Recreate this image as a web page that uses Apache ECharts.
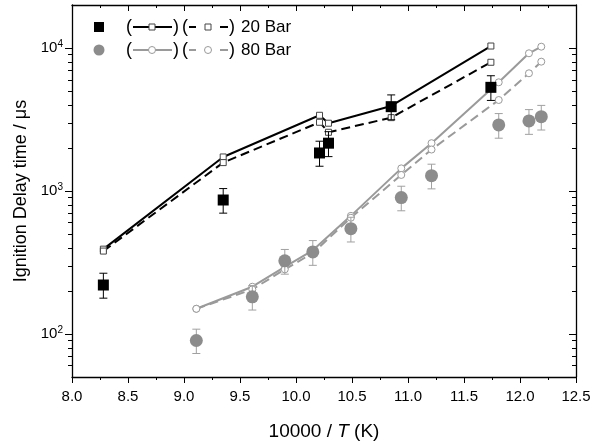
<!DOCTYPE html>
<html>
<head>
<meta charset="utf-8">
<script src="https://cdn.jsdelivr.net/npm/echarts@6/dist/echarts.min.js"></script>
<style>
html,body{margin:0;padding:0;background:#fff;}
#chart{width:600px;height:448px;}
</style>
</head>
<body>
<div id="chart"></div>
<script>
// ---- data ----
// 20 Bar experiment (filled black squares)
const x20 = [8.28, 9.35, 10.21, 10.29, 10.85, 11.74];
const exp20 = [220, 865, 1845, 2160, 3890, 5310];
const exp20Lo = [178, 700, 1490, 1740, 3150, 4300];
const exp20Hi = [266, 1040, 2230, 2600, 4700, 6400];
// 20 Bar simulations (open squares)
const sim20Solid = [392, 1730, 3385, 2980, 3935, 10330];
const sim20Dash = [380, 1580, 3025, 2575, 3260, 7950];

// 80 Bar experiment (filled grey circles)
const x80 = [9.11, 9.61, 9.90, 10.15, 10.49, 10.94, 11.21, 11.81, 12.08, 12.19];
const exp80 = [90, 182, 325, 375, 545, 900, 1280, 2900, 3090, 3310];
const exp80Lo = [73, 147, 262, 302, 440, 727, 1035, 2340, 2490, 2670];
const exp80Hi = [108, 218, 390, 450, 655, 1080, 1540, 3480, 3710, 3970];
// 80 Bar simulations (open circles)
const sim80Solid = [150, 214, 295, 385, 670, 1440, 2160, 5760, 9190, 10220];
const sim80Dash = [150, 205, 283, 368, 650, 1295, 1950, 4330, 6660, 8030];

// axes
const xMin = 8.0, xMax = 12.5, xStep = 0.5;
const yMin = 50, yMax = 20000;
const yMajor = [100, 1000, 10000];
const yMinor = [60, 70, 80, 90, 200, 300, 400, 500, 600, 700, 800, 900,
  2000, 3000, 4000, 5000, 6000, 7000, 8000, 9000];

const legendLabels = ['20 Bar', '80 Bar'];
const yTitle = 'Ignition Delay time / \u03bcs';

// ---- build ----
const BLACK = '#000000';
const GREY = '#8c8c8c';
const GREY_LINE = '#9a9a9a';
const GREY_ERR = '#a0a0a0';
const FONT = 'Liberation Sans, Arial, sans-serif';

const pairs = (xs, ys) => xs.map((x, i) => [x, ys[i]]);
const errData = (xs, lo, hi) => xs.map((x, i) => [x, lo[i], hi[i]]);

function errRender(color) {
  return function (params, api) {
    const x = api.value(0);
    const p1 = api.coord([x, api.value(1)]);
    const p2 = api.coord([x, api.value(2)]);
    const w = 4;
    const st = { stroke: color, lineWidth: 1 };
    return {
      type: 'group',
      children: [
        { type: 'line', shape: { x1: p1[0], y1: p1[1], x2: p2[0], y2: p2[1] }, style: st },
        { type: 'line', shape: { x1: p1[0] - w, y1: p1[1], x2: p1[0] + w, y2: p1[1] }, style: st },
        { type: 'line', shape: { x1: p2[0] - w, y1: p2[1], x2: p2[0] + w, y2: p2[1] }, style: st }
      ]
    };
  };
}

const supFmt = v => '10{sup|' + Math.round(Math.log10(v)) + '}';

const commonX = {
  type: 'value', min: xMin, max: xMax, interval: xStep,
  splitLine: { show: false },
  axisLine: { show: true, onZero: false, lineStyle: { color: BLACK, width: 1.3 } },
};
const chart = echarts.init(document.getElementById('chart'), null, { renderer: 'canvas' });
const option = {
  animation: false,
  backgroundColor: '#ffffff',
  grid: { left: 72, right: 24, top: 5, bottom: 71, containLabel: false },
  xAxis: [
    Object.assign({}, commonX, {
      position: 'bottom',
      name: '10000 / {it|T} (K)',
      nameLocation: 'middle',
      nameGap: 45,
      nameTextStyle: {
        fontFamily: FONT, fontSize: 19, color: BLACK,
        rich: { it: { fontStyle: 'italic', fontFamily: FONT, fontSize: 19, color: BLACK } }
      },
      axisTick: { show: true, inside: false, length: 6, lineStyle: { color: BLACK } },
      minorTick: { show: true, splitNumber: 2, length: 3, lineStyle: { color: BLACK } },
      axisLabel: {
        fontFamily: FONT, fontSize: 15, color: BLACK, margin: 12,
        formatter: v => v.toFixed(1)
      }
    }),
    Object.assign({}, commonX, {
      position: 'top',
      axisTick: { show: true, inside: true, length: 6, lineStyle: { color: BLACK } },
      minorTick: { show: true, splitNumber: 2, length: 3, lineStyle: { color: BLACK } },
      axisLabel: { show: false }
    })
  ],
  yAxis: [
    {
      type: 'log', min: yMin, max: yMax, position: 'left',
      splitLine: { show: false },
      axisLine: { show: true, onZero: false, lineStyle: { color: BLACK, width: 1.3 } },
      axisTick: { show: true, inside: false, length: 7, customValues: yMajor, lineStyle: { color: BLACK } },
      axisLabel: {
        customValues: yMajor, formatter: supFmt, margin: 9,
        fontFamily: FONT, fontSize: 15, color: BLACK,
        rich: { sup: { fontFamily: FONT, fontSize: 10, color: BLACK, verticalAlign: 'top', padding: [0, 0, 8, 0] } }
      },
      name: yTitle, nameLocation: 'middle', nameGap: 41,
      nameTextStyle: { fontFamily: FONT, fontSize: 18, color: BLACK }
    },
    {
      type: 'log', min: yMin, max: yMax, position: 'right',
      splitLine: { show: false },
      axisLine: { show: true, onZero: false, lineStyle: { color: BLACK, width: 1.3 } },
      axisTick: { show: true, inside: true, length: 7, customValues: yMajor, lineStyle: { color: BLACK } },
      axisLabel: { show: false }
    },
    {
      type: 'log', min: yMin, max: yMax, position: 'left',
      splitLine: { show: false },
      axisLine: { show: false },
      axisTick: { show: true, inside: false, length: 4, customValues: yMinor, lineStyle: { color: BLACK } },
      axisLabel: { show: false }
    },
    {
      type: 'log', min: yMin, max: yMax, position: 'right',
      splitLine: { show: false },
      axisLine: { show: false },
      axisTick: { show: true, inside: true, length: 4, customValues: yMinor, lineStyle: { color: BLACK } },
      axisLabel: { show: false }
    }
  ],
  series: [
    // simulations 20 bar
    {
      type: 'line', data: pairs(x20, sim20Solid), symbol: 'rect', symbolSize: 6,
      lineStyle: { color: BLACK, width: 2 },
      itemStyle: { color: '#ffffff', borderColor: '#444', borderWidth: 1 }, z: 3
    },
    {
      type: 'line', data: pairs(x20, sim20Dash), symbol: 'rect', symbolSize: 6,
      lineStyle: { color: BLACK, width: 2, type: [9, 5] },
      itemStyle: { color: '#ffffff', borderColor: '#444', borderWidth: 1 }, z: 3
    },
    // simulations 80 bar
    {
      type: 'line', data: pairs(x80, sim80Solid), symbol: 'circle', symbolSize: 7,
      lineStyle: { color: GREY_LINE, width: 2 },
      itemStyle: { color: '#ffffff', borderColor: GREY_LINE, borderWidth: 1 }, z: 3
    },
    {
      type: 'line', data: pairs(x80, sim80Dash), symbol: 'circle', symbolSize: 7,
      lineStyle: { color: GREY_LINE, width: 2, type: [9, 5] },
      itemStyle: { color: '#ffffff', borderColor: GREY_LINE, borderWidth: 1 }, z: 3
    },
    // error bars
    { type: 'custom', data: errData(x20, exp20Lo, exp20Hi), renderItem: errRender(BLACK), z: 4 },
    { type: 'custom', data: errData(x80, exp80Lo, exp80Hi), renderItem: errRender(GREY_ERR), z: 4 },
    // experiments
    {
      type: 'scatter', data: pairs(x20, exp20), symbol: 'rect', symbolSize: 11,
      itemStyle: { color: BLACK, opacity: 1 }, z: 5
    },
    {
      type: 'scatter', data: pairs(x80, exp80), symbol: 'circle', symbolSize: 13,
      itemStyle: { color: GREY, opacity: 1 }, z: 5
    }
  ],
  graphic: []
};

// legend drawn as graphic elements (text kept as text)
function legendRow(y, markerShape, markerColor, lineColor, symShape, label) {
  const g = [];
  if (markerShape === 'rect') {
    g.push({ type: 'rect', shape: { x: 94, y: y - 5, width: 10, height: 10 }, style: { fill: markerColor } });
  } else {
    g.push({ type: 'circle', shape: { cx: 99, cy: y, r: 5.5 }, style: { fill: markerColor } });
  }
  const txt = (x, s) => ({ type: 'text', x: x, y: y, style: { text: s, font: '18px ' + FONT, fill: BLACK, verticalAlign: 'middle', align: 'left' } });
  const sym = (cx) => symShape === 'rect'
    ? { type: 'rect', shape: { x: cx - 3, y: y - 3, width: 6, height: 6 }, style: { fill: '#fff', stroke: '#444', lineWidth: 1 } }
    : { type: 'circle', shape: { cx: cx, cy: y, r: 3.5 }, style: { fill: '#fff', stroke: lineColor, lineWidth: 1 } };
  g.push(txt(126, '('));
  g.push({ type: 'line', shape: { x1: 133, y1: y, x2: 172, y2: y }, style: { stroke: lineColor, lineWidth: 2 } });
  g.push(sym(152));
  g.push(txt(173, ')'));
  g.push(txt(182, '('));
  g.push({ type: 'line', shape: { x1: 189, y1: y, x2: 196, y2: y }, style: { stroke: lineColor, lineWidth: 2 } });
  g.push(sym(208));
  g.push({ type: 'line', shape: { x1: 220, y1: y, x2: 228, y2: y }, style: { stroke: lineColor, lineWidth: 2 } });
  g.push(txt(229, ')'));
  g.push({ type: 'text', x: 241, y: y, style: { text: label, font: '17px ' + FONT, fill: BLACK, verticalAlign: 'middle', align: 'left' } });
  return g;
}
option.graphic = [].concat(
  legendRow(27, 'rect', BLACK, BLACK, 'rect', legendLabels[0]),
  legendRow(50, 'circle', GREY, GREY_LINE, 'circle', legendLabels[1])
);

chart.setOption(option);
</script>
</body>
</html>
